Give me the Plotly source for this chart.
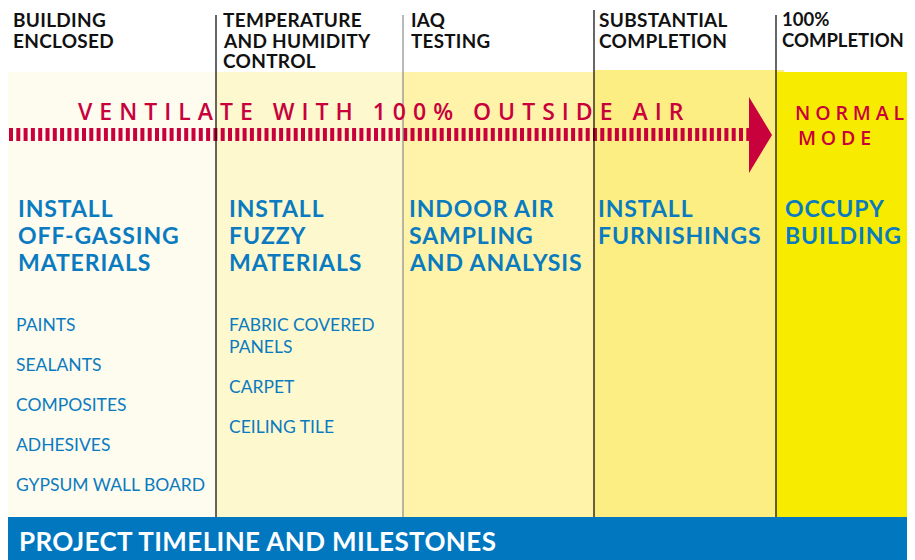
import plotly.graph_objects as go

# DATA
milestones = [["BUILDING", "ENCLOSED"],
              ["TEMPERATURE", "AND HUMIDITY", "CONTROL"],
              ["IAQ", "TESTING"],
              ["SUBSTANTIAL", "COMPLETION"],
              ["100%", "COMPLETION"]]
tasks = [["INSTALL", "OFF-GASSING", "MATERIALS"],
         ["INSTALL", "FUZZY", "MATERIALS"],
         ["INDOOR AIR", "SAMPLING", "AND ANALYSIS"],
         ["INSTALL", "FURNISHINGS"],
         ["OCCUPY", "BUILDING"]]
items = [[["PAINTS"], ["SEALANTS"], ["COMPOSITES"], ["ADHESIVES"], ["GYPSUM WALL BOARD"]],
         [["FABRIC COVERED", "PANELS"], ["CARPET"], ["CEILING TILE"]],
         [], [], []]
ventilate_text = "VENTILATE WITH 100% OUTSIDE AIR"
normal_text = ["NORMAL", "MODE"]
footer_text = "PROJECT TIMELINE AND MILESTONES"

# LAYOUT CONFIG (page body has an 8px margin, so axis ranges start at 8)
W, H = 915, 560
OFF = 8
col_edges = [7, 216, 403, 594, 776, 915]
col_fill = ["#FEFCEF", "#FEF8CF", "#FEF3A8", "#FCEE82", "#F7EC00"]
col_top = [72, 72, 72, 70, 72]
line_col = ["#8a8a8a", "#000000", "#8a8a8a", "#000000", "#000000"]
line_top = [15, 15, 15, 10, 15]
head_dx = [4, 5, 6, 3, 4]
head_size = [19, 19, 18.8, 19, 18.5]
head_sp = [0.3, 0.3, 0.3, 0.3, 0]
task_dx = [9, 11, 4, 2, 7]
item_dx = [7, 11, 7, 7, 7]
body_bottom = 517
red = "#C8003C"
blue = "#0A7BC0"

fig = go.Figure()
shapes = []
ann = []


def label(x, y, text, size, color, weight="normal", family="Lato", spacing=None, box_h=None):
    if spacing:
        text = f'<span style="letter-spacing:{spacing}px">{text}</span>'
    a = dict(x=x, y=y, text=text, xanchor="left", yanchor="middle", align="left",
             showarrow=False, borderpad=0,
             font=dict(family=family, size=size, color=color, weight=weight))
    if box_h:
        a["height"] = box_h
    ann.append(a)


for i in range(5):
    shapes.append(dict(type="rect", x0=col_edges[i], x1=col_edges[i + 1] + OFF, y0=col_top[i],
                       y1=body_bottom, fillcolor=col_fill[i], line=dict(width=0), layer="below"))

for i in range(5):
    x = col_edges[i]
    shapes.append(dict(type="line", x0=x, x1=x, y0=line_top[i], y1=body_bottom,
                       line=dict(color=line_col[i], width=1.2)))

# footer bar
shapes.append(dict(type="rect", x0=5, x1=W + OFF, y0=body_bottom, y1=H + OFF,
                   fillcolor="#0077BF", line=dict(width=0)))

# arrow head
shapes.append(dict(type="path", path="M 749 97 L 772 135 L 749 173 Z",
                   fillcolor=red, line=dict(width=0)))

# dashed arrow shaft
fig.add_trace(go.Scatter(x=[9, 749], y=[134.5, 134.5], mode="lines",
                         line=dict(color=red, width=13, dash="4px,3.3px"),
                         hoverinfo="skip", showlegend=False))

for i in range(5):
    for k, ln in enumerate(milestones[i]):
        label(col_edges[i] + head_dx[i] + 1, 19 + 20.5 * k, ln, head_size[i], "#111111",
              weight="bold", spacing=head_sp[i], box_h=20)
    for k, ln in enumerate(tasks[i]):
        label(col_edges[i] + task_dx[i] + 1, 208 + 27 * k, ln, 23, blue, weight="bold",
              spacing=0.9, box_h=26)
    y = 324
    for it in items[i]:
        for k, ln in enumerate(it):
            label(col_edges[i] + item_dx[i] + 1, y + 22 * k, ln, 17.5, blue, box_h=21)
        y += 40 + 22 * (len(it) - 1)

label(77, 110.5, ventilate_text, 23, red, weight=600, family="Open Sans", spacing=7.0)
for k, ln in enumerate(normal_text):
    label([794, 797][k], 111.5 + 25 * k, ln, 19.5, red, weight=600, family="Open Sans",
          spacing=4.9, box_h=24)
label(18, 541, footer_text, 26, "white", weight="bold", spacing=0.4)

fig.update_layout(
    width=W, height=H, margin=dict(l=0, r=0, t=0, b=0),
    paper_bgcolor="white", plot_bgcolor="white",
    xaxis=dict(range=[OFF, W + OFF], visible=False, fixedrange=True),
    yaxis=dict(range=[H + OFF, OFF], visible=False, fixedrange=True),
    shapes=shapes, annotations=ann, showlegend=False,
)

fig.write_html("out.html")
